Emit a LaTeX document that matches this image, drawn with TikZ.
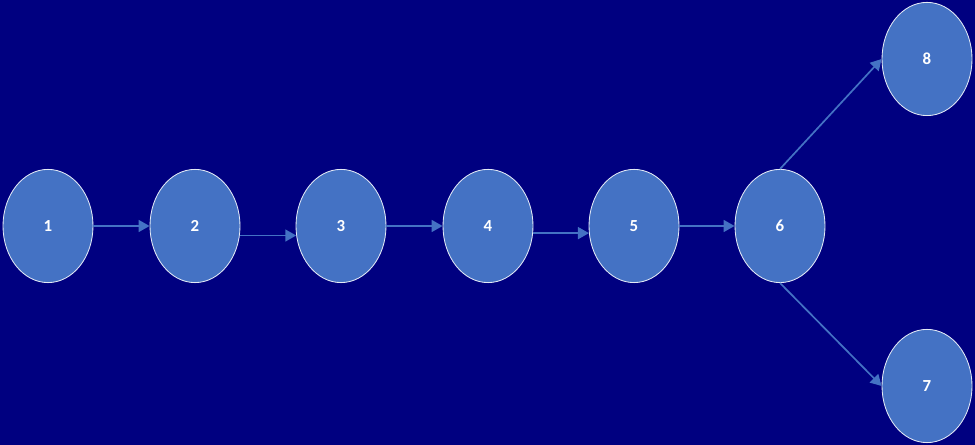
\documentclass[tikz,border=0pt]{standalone}
\usepackage{fontspec}
\setmainfont{Carlito}
\usetikzlibrary{arrows.meta,shapes.geometric,backgrounds}
\definecolor{navybg}{HTML}{000080}
\definecolor{stepblue}{HTML}{4472C4}
\tikzset{
  every picture/.style={line width=0.75pt},
  stage/.style={ellipse, draw=white!85!stepblue, line width=0.6pt, fill=stepblue,
    minimum width=2.25cm, minimum height=2.83cm, inner sep=0pt,
    text=white, font=\fontsize{12}{14}\selectfont\bfseries},
  link/.style={draw=stepblue, line width=1.2pt, -{Triangle[length=7.8pt,width=8.5pt]}}
}
\begin{document}
\begin{tikzpicture}
    \fill[navybg] (0,0) rectangle (24.375,11.125);
    \useasboundingbox (0,0) rectangle (24.375,11.125);
    \node[stage] (s1) at (1.2,5.475) {1};
    \node[stage] (s2) at (4.875,5.475) {2};
    \node[stage] (s3) at (8.525,5.475) {3};
    \node[stage] (s4) at (12.2,5.475) {4};
    \node[stage] (s5) at (15.85,5.475) {5};
    \node[stage] (s6) at (19.5,5.475) {6};
    \node[stage] (s8) at (23.175,9.65) {8};
    \node[stage] (s7) at (23.175,1.475) {7};
    \draw[link] (s1) -- (s2);
    \draw[link] (s2.-12) -- (s3.192);
    \draw[link] (s3) -- (s4);
    \draw[link] (s4.-9) -- (s5.189);
    \draw[link] (s5) -- (s6);
    \draw[link] (s6.north) -- (s8.west);
    \draw[link] (s6.south) -- (s7.west);
\end{tikzpicture}
\end{document}
